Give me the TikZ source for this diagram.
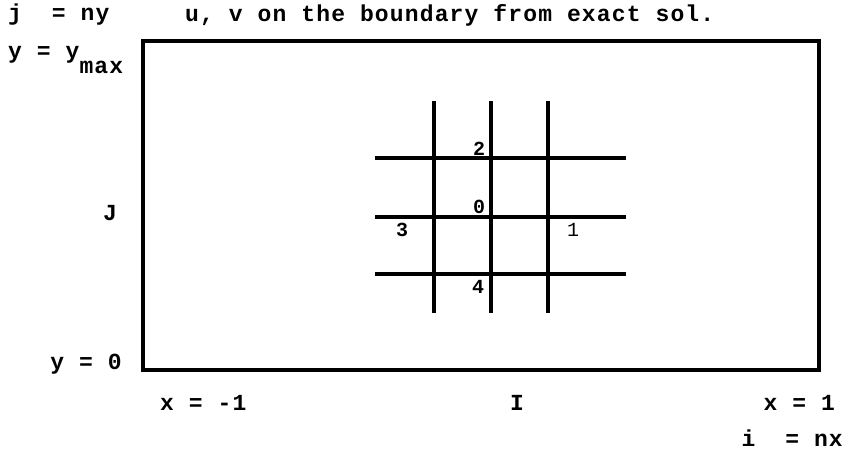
\documentclass[tikz,border=0pt]{standalone}
\usepackage{fontspec}
\setmonofont{Liberation Mono}[LetterSpace=5]
\usepackage{tikz}
\usetikzlibrary{
    positioning,
    calc
}

\begin{document}
\begin{tikzpicture}[
    x=1pt,
    y=-1pt,
    gridline/.style={line width=3.2pt},
    label/.style={font=\ttfamily\bfseries\fontsize{23}{25}\selectfont, inner sep=0pt},
    pointlabel/.style={font=\ttfamily\bfseries\fontsize{20}{22}\selectfont, inner sep=0pt}
]

\useasboundingbox (0,0) rectangle (850,451);

% domain
\draw[line width=3.4pt] (143,41) rectangle (819,370);

% grid
\foreach \gx in {434,491,548} {
    \draw[gridline] (\gx,101) -- (\gx,313);
}
\foreach \gy in {158,217,274} {
    \draw[gridline] (375,\gy) -- (626,\gy);
}

\node[pointlabel] (ptnorth) at (479,149) {2};
\node[pointlabel] (ptcentre) at (479,207) {0};
\node[pointlabel] (ptwest) at (402,230) {3};
\node[pointlabel, font=\ttfamily\fontsize{20}{22}\selectfont] (pteast) at (573,230) {1};
\node[pointlabel] (ptsouth) at (478,287) {4};

% boundary texts
\node[
    label,
    anchor=west
] (jtop) at (8,15) {j~~=~ny};

\node[
    label,
    anchor=west
] (bctext) at (185,15) {u, v on the boundary from exact sol.};

\node[
    label,
    anchor=base west
] (ymax) at (8,58) {y = y\raisebox{-15pt}{max}};

\node[label] (jlabel) at (110,213) {J};

\node[
    label,
    anchor=east
] (yzero) at (122,364) {y = 0};

\node[
    label,
    anchor=west
] (xleft) at (160,403) {x = -1};

\node[label] (ilabel) at (517,403) {I};

\node[
    label,
    anchor=east
] (xright) at (835,403) {x = 1};

\node[
    label,
    anchor=base east
] (iright) at (843,446) {i~~=~nx};

\end{tikzpicture}
\end{document}
